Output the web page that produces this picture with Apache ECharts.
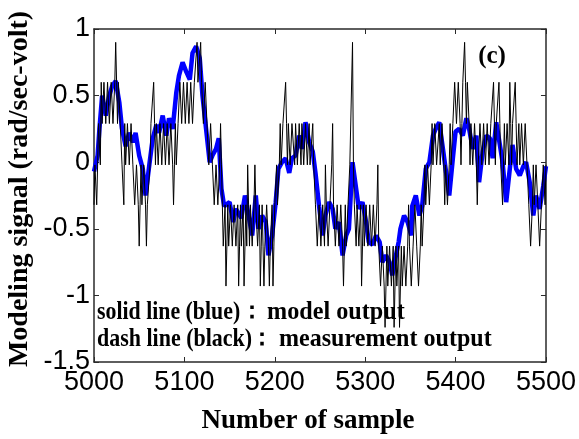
<!DOCTYPE html>
<html>
<head>
<meta charset="utf-8">
<script src="https://cdn.jsdelivr.net/npm/echarts@6/dist/echarts.min.js"></script>
<style>
  html, body { margin: 0; padding: 0; background: #fff; }
  #main { width: 579px; height: 439px; }
</style>
</head>
<body>
<div id="main"></div>
<script>
// model output (blue)
var blueSamples = [5000,5004,5006,5009,5013,5017,5020,5024,5028,5031,5035,5039,5043,5046,5050,5054,5057,5061,5065,5069,
  5072,5076,5080,5083,5087,5091,5094,5098,5102,5106,5109,5113,5117,5120,5124,5128,5131,5135,5138,5141,
  5144,5150,5154,5157,5163,5167,5171,5175,5179,5182,5186,5190,5193,5197,5201,5204,5208,5212,5216,5219,
  5223,5227,5230,5234,5238,5242,5245,5249,5253,5256,5260,5264,5267,5271,5275,5279,5282,5286,5290,5293,
  5297,5301,5304,5308,5312,5316,5319,5323,5327,5330,5334,5337,5339,5343,5347,5351,5352,5356,5360,5363,
  5367,5371,5375,5378,5382,5386,5389,5393,5397,5400,5404,5408,5412,5415,5419,5423,5426,5430,5434,5438,
  5441,5445,5449,5452,5456,5460,5463,5467,5471,5475,5478,5482,5486,5489,5493,5497,5500];
var blueValues = [-0.07,0.05,0.25,0.5,0.35,0.5,0.57,0.61,0.45,0.25,0.12,0.22,0.15,0.22,0.05,-0.05,-0.25,-0.03,0.18,0.28,
  0.22,0.35,0.2,0.33,0.25,0.52,0.65,0.75,0.68,0.62,0.82,0.87,0.78,0.5,0.25,0,0.05,0.1,0.18,-0.2,
  -0.33,-0.3,-0.45,-0.35,-0.42,-0.25,-0.4,-0.55,-0.25,-0.5,-0.4,-0.45,-0.7,-0.55,-0.3,-0.05,0,0.03,-0.08,0.03,
  0.05,0.2,0.1,0.3,0.15,0.08,-0.08,-0.33,-0.55,-0.4,-0.3,-0.35,-0.5,-0.45,-0.7,-0.55,-0.5,0,-0.2,-0.35,
  -0.3,-0.45,-0.6,-0.62,-0.55,-0.6,-0.75,-0.7,-0.75,-0.85,-0.7,-0.6,-0.5,-0.4,-0.45,-0.55,-0.33,-0.25,-0.4,-0.33,
  -0.05,0,0.2,0.25,0.3,0.1,-0.05,-0.25,0.03,0.23,0.25,0.2,0.33,0.25,0.1,0.2,-0.15,0.08,0.2,0.18,
  0.03,0.3,0.13,0,-0.3,-0.05,0.13,-0.05,-0.1,-0.03,0,-0.15,-0.4,-0.25,-0.35,-0.18,-0.03];

// measurement output (black), one value per sample from 5000 to 5500
var blackStart = 5000, blackStep = 1;
var blackValues = [
  -0.32,-0.02,-0.02,-0.32,-0.02,0.29,0.29,-0.02,0.6,0.29,0.29,0.6,0.6,0.29,0.29,0.6,0.6,0.29,0.29,0.6,
  0.6,0.29,0.29,0.6,0.9,0.6,0.29,0.6,0.6,0.29,0.29,-0.02,-0.02,-0.32,0.29,-0.02,-0.02,0.29,0.29,-0.02,
  -0.02,0.29,0.29,-0.02,-0.02,-0.32,-0.32,-0.02,-0.02,-0.32,-0.63,-0.32,-0.02,-0.32,-0.32,-0.02,-0.02,-0.32,-0.63,-0.32,
  -0.32,-0.32,-0.02,0.29,0.29,0.29,0.6,0.29,-0.02,0.29,0.29,-0.02,-0.02,0.29,0.29,-0.02,-0.02,0.29,0.29,-0.02,
  -0.02,0.29,0.29,-0.02,-0.02,0.29,0.29,-0.02,-0.32,-0.02,0.29,-0.02,-0.02,0.29,0.29,0.6,0.6,0.29,0.29,0.6,
  0.6,0.29,0.29,0.6,0.6,0.29,0.29,0.6,0.6,0.29,0.29,0.6,0.6,0.6,0.9,0.6,0.6,0.6,0.9,0.6,
  0.6,0.29,0.29,0.6,0.6,0.29,0.29,-0.02,-0.02,0.29,0.29,-0.02,-0.02,-0.32,-0.32,-0.02,-0.02,-0.32,-0.32,-0.02,
  0.29,-0.02,-0.32,-0.63,-0.63,-0.32,-0.93,-0.63,-0.32,-0.63,-0.63,-0.32,-0.32,-0.63,-0.63,-0.32,-0.32,-0.63,-0.63,-0.32,
  -0.93,-0.63,-0.32,-0.63,-0.63,-0.32,-0.93,-0.63,-0.32,-0.63,-0.02,-0.32,-0.63,-0.32,-0.32,-0.63,-0.63,-0.32,-0.02,-0.32,
  -0.32,-0.63,-0.63,-0.32,-0.93,-0.63,-0.32,-0.63,-0.93,-0.63,-0.63,-0.32,-0.32,-0.63,-0.93,-0.63,-0.63,-0.32,-0.93,-0.63,
  -0.32,-0.32,-0.02,-0.32,-0.32,-0.02,0.29,-0.02,-0.02,0.29,0.29,0.29,0.6,0.29,-0.02,0.29,0.29,-0.02,-0.02,0.29,
  0.29,0.29,-0.02,0.29,0.29,-0.02,-0.02,0.29,0.29,-0.02,0.29,0.29,-0.02,-0.02,0.29,0.29,-0.02,-0.02,0.29,-0.02,
  -0.02,-0.02,0.29,-0.02,-0.02,-0.32,-0.32,-0.63,-0.63,-0.32,-0.32,-0.63,-0.63,-0.32,-0.32,-0.63,-0.02,-0.32,-0.32,-0.63,
  -0.63,-0.32,-0.32,-0.02,0.29,-0.32,-0.32,-0.63,-0.63,-0.32,-0.32,-0.63,-0.63,-0.32,-0.32,-0.63,-0.93,-0.63,-0.32,-0.63,
  -0.63,-0.32,-0.32,-0.02,-0.02,-0.02,0.9,-0.02,-0.32,-0.32,-0.63,-0.32,-0.32,-0.63,-0.63,-0.32,-0.93,-0.63,-0.32,-0.63,
  -0.63,-0.32,-0.32,-0.63,-0.63,-0.32,-0.32,-0.63,-0.63,-0.32,-0.32,-0.63,-0.63,-0.32,-0.02,-0.63,-0.63,-0.93,-0.93,-0.63,
  -0.63,-0.93,-1.24,-0.93,-0.63,-0.93,-0.93,-0.63,-0.63,-0.93,-0.93,-0.63,-1.24,-0.93,-0.63,-0.93,-0.93,-0.63,-1.24,-0.93,
  -0.63,-0.93,-0.93,-0.63,-0.63,-0.93,-0.93,-0.63,-0.32,-0.63,-0.63,-0.93,-0.93,-0.63,-0.63,-0.32,-0.32,-0.63,-0.63,-0.93,
  -0.93,-0.63,-0.32,-0.63,-0.63,-0.32,-0.02,-0.32,-0.32,-0.02,-0.02,-0.32,-0.32,-0.02,0.29,-0.02,-0.02,0.29,0.29,-0.02,
  -0.02,-0.02,0.29,-0.02,-0.02,0.29,0.29,-0.02,-0.32,-0.02,-0.02,-0.32,-0.32,-0.02,0.29,-0.02,-0.02,0.29,0.29,0.6,
  0.6,0.29,0.29,0.6,0.6,0.29,-0.02,0.29,0.6,0.6,0.9,0.6,0.29,0.6,0.6,0.29,-0.02,0.29,0.29,-0.02,
  -0.02,0.29,0.29,-0.02,-0.32,-0.02,-0.02,0.29,0.29,-0.02,-0.02,0.29,0.29,-0.02,-0.02,0.29,0.29,-0.02,-0.02,0.29,
  0.29,0.29,0.6,0.29,-0.02,0.29,0.29,0.29,0.6,0.29,-0.02,-0.02,-0.32,-0.02,0.29,-0.02,-0.02,0.29,0.29,-0.02,
  0.6,0.29,-0.02,0.29,0.29,0.29,0.6,0.29,-0.02,-0.02,0.29,-0.02,-0.02,0.29,0.29,-0.02,-0.02,0.29,0.29,-0.02,
  -0.02,-0.32,-0.32,-0.63,-0.63,-0.32,-0.02,-0.32,-0.32,-0.02,-0.02,-0.32,-0.32,-0.63,-0.63,-0.32,-0.32,-0.02,-0.02,-0.32,
  -0.02];

var blueData = blueSamples.map(function (s, i) { return [s, blueValues[i]]; });
var blackData = blackValues.map(function (v, i) { return [blackStart + i * blackStep, v]; });

var chart = echarts.init(document.getElementById('main'));

var frameLine = { show: true, onZero: false, lineStyle: { color: '#2a2a2a', width: 1.5 } };
var inTick = { show: true, inside: true, length: 5, lineStyle: { color: '#2a2a2a' } };
var numFont = { color: '#000', fontFamily: 'Liberation Sans, Arial', fontSize: 27 };
var serifBold = '"Liberation Serif", "Times New Roman", serif';

// text in the reference is a bit squeezed sideways, hence sx
function label(x, y, text, size, align, sx) {
  return { type: 'text', x: x, y: y, z: 10, scaleX: sx || 1,
    style: { text: text, fill: '#000', align: align || 'left', verticalAlign: 'middle', font: 'bold ' + size + 'px ' + serifBold } };
}

option = {
  animation: false,
  backgroundColor: '#fff',
  grid: { left: 94, right: 33, top: 29, bottom: 77 },
  xAxis: [{
    type: 'value', min: 5000, max: 5500, interval: 100,
    axisLine: frameLine, axisTick: inTick, splitLine: { show: false },
    axisLabel: Object.assign({ margin: 7, formatter: function (v) { return String(v); } }, numFont)
  }, {
    type: 'value', min: 5000, max: 5500, interval: 100, position: 'top',
    axisLine: frameLine, axisTick: inTick, axisLabel: { show: false }, splitLine: { show: false }
  }],
  yAxis: [{
    type: 'value', min: -1.5, max: 1, interval: 0.5,
    axisLine: frameLine, axisTick: inTick, splitLine: { show: false },
    axisLabel: Object.assign({ margin: 4 }, numFont)
  }, {
    type: 'value', min: -1.5, max: 1, interval: 0.5, position: 'right',
    axisLine: frameLine, axisTick: inTick, axisLabel: { show: false }, splitLine: { show: false }
  }],
  graphic: [
    label(308, 421, 'Number of sample', 27, 'center'),
    { type: 'text', x: 20, y: 189, rotation: Math.PI / 2, style: { text: 'Modeling signal (rad/sec-volt)', fill: '#000', align: 'center', verticalAlign: 'middle', font: 'bold 28px ' + serifBold } },
    label(492, 57, '(c)', 25, 'center'),
    label(97, 312, 'solid line (blue)', 26, 'left', 0.84),
    label(252, 312, '：', 24, 'center'),
    label(267, 312, 'model output', 26, 'left', 0.93),
    label(97, 339, 'dash line (black)', 26, 'left', 0.845),
    label(262, 339, '：', 24, 'center'),
    label(279, 339, 'measurement output', 26, 'left', 0.925)
  ],
  series: [{
    name: 'model output', type: 'line', data: blueData, showSymbol: false, z: 2,
    lineStyle: { color: '#0000ff', width: 4.5 }
  }, {
    name: 'measurement output', type: 'line', data: blackData, showSymbol: false, z: 3,
    lineStyle: { color: '#000', width: 1 }
  }]
};

chart.setOption(option);
</script>
</body>
</html>
